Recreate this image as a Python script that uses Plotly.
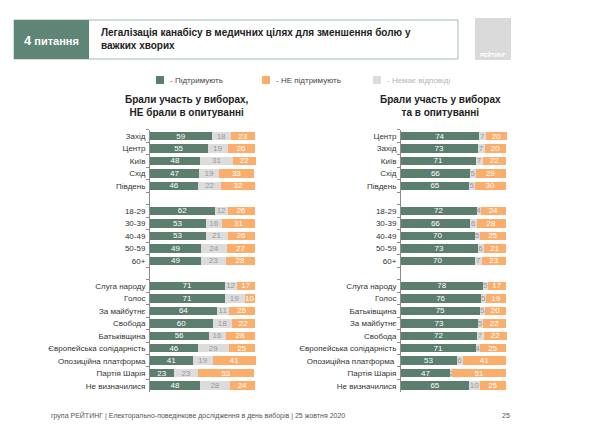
import plotly.graph_objects as go

W, H = 602, 427

series_names = ["- Підтримують", "- НЕ підтримують", "- Немає відповіді"]

categories = ["Захід", "Центр", "Київ", "Схід", "Південь", " ",
              "18-29", "30-39", "40-49", "50-59", "60+", "  ",
              "Слуга народу", "Голос", "За майбутнє", "Свобода", "Батьківщина",
              "Європейська солідарність", "Опозиційна платформа", "Партія Шарія", "Не визначилися"]
left_support = [59, 55, 48, 47, 46, None, 62, 53, 53, 49, 49, None, 71, 71, 64, 60, 56, 46, 41, 23, 48]
left_noanswer = [18, 19, 31, 19, 22, None, 12, 16, 21, 24, 23, None, 12, 19, 11, 18, 16, 29, 19, 23, 28]
left_against = [23, 26, 22, 33, 32, None, 26, 31, 26, 27, 28, None, 17, 10, 25, 22, 28, 25, 41, 53, 24]

categories_r = ["Центр", "Захід", "Київ", "Схід", "Південь", " ",
                "18-29", "30-39", "40-49", "50-59", "60+", "  ",
                "Слуга народу", "Голос", "Батьківщина", "За майбутнє", "Свобода",
                "Європейська солідарність", "Опозиційна платформа ", "Партія Шарія", "Не визначилися"]
right_support = [74, 73, 71, 66, 65, None, 72, 66, 70, 73, 70, None, 78, 76, 75, 73, 72, 71, 53, 47, 65]
right_noanswer = [7, 7, 7, 5, 5, None, 4, 6, 5, 6, 7, None, 5, 5, 5, 5, 7, 4, 6, 2, 10]
right_against = [20, 20, 22, 29, 30, None, 24, 28, 25, 21, 23, None, 17, 19, 20, 22, 22, 25, 41, 51, 25]

GREEN = "#5b7e6f"
GREY = "#dcdcdc"
ORANGE = "#fbae6c"
FONT = "Liberation Sans Narrow, Arial Narrow, Liberation Sans, Arial, sans-serif"

def px(x):
    return x / W

def py(y):
    return 1 - y / H

fig = go.Figure()

def add_panel(cats, sup, na, ag, xa, ya):
    for vals, color, tcolor in [(sup, GREEN, "white"), (na, GREY, "#9a9a9a"), (ag, ORANGE, "white")]:
        fig.add_trace(go.Bar(
            y=cats, x=vals, orientation="h", marker=dict(color=color, line=dict(width=0)),
            text=[("" if v is None else str(v)) for v in vals], textposition="inside",
            insidetextanchor="middle", textangle=0,
            textfont=dict(color=tcolor, size=8, family=FONT),
            xaxis=xa, yaxis=ya, showlegend=False, hoverinfo="skip", cliponaxis=False))

add_panel(categories, left_support, left_noanswer, left_against, "x", "y")
add_panel(categories_r, right_support, right_noanswer, right_against, "x2", "y2")

ytop = py(136 - 12.49 / 2)
ybot = py(385.7 + 12.49 / 2)
UNIT = 1.05  # px per percent
XMAX = 102

yax = dict(type="category", autorange="reversed", domain=[ybot, ytop], showline=True,
           linecolor="#8c8c8c", linewidth=1, ticks="outside", ticklen=3, tickcolor="#8c8c8c",
           tickson="boundaries", tickfont=dict(size=8, color="#333", family=FONT), showgrid=False,
           zeroline=False, ticklabelstandoff=2)

fig.update_layout(
    width=W, height=H, margin=dict(l=0, r=0, t=0, b=0),
    paper_bgcolor="white", plot_bgcolor="white", barmode="stack", bargap=0.32,
    uniformtext=dict(minsize=8, mode="show"),
    font=dict(family=FONT),
    xaxis=dict(domain=[px(150), px(150 + XMAX * UNIT)], range=[0, XMAX], visible=False),
    xaxis2=dict(domain=[px(401), px(401 + XMAX * UNIT)], range=[0, XMAX], visible=False, anchor="y2"),
    yaxis=dict(yax, categoryarray=categories, categoryorder="array", anchor="x"),
    yaxis2=dict(yax, categoryarray=categories_r, categoryorder="array", anchor="x2"),
)

shapes = []
ann = []
# Header box
shapes.append(dict(type="rect", xref="paper", yref="paper", x0=px(14), x1=px(458), y0=py(59), y1=py(20),
                   line=dict(color="#9fbdb2", width=1), fillcolor="white", layer="below"))
shapes.append(dict(type="rect", xref="paper", yref="paper", x0=px(14), x1=px(89), y0=py(59), y1=py(20),
                   line=dict(width=0), fillcolor="#5f8576", layer="below"))
ann.append(dict(xref="paper", yref="paper", x=px(51), y=py(40), text="<b><span style='font-size:13px'>4</span> питання</b>",
                showarrow=False, font=dict(size=11, color="white", family="Liberation Sans, Arial"), xanchor="center", yanchor="middle"))
ann.append(dict(xref="paper", yref="paper", x=px(99), y=py(39), align="left",
                text="<b>Легалізація канабісу в медичних цілях для зменшення болю у<br>важких хворих</b>",
                showarrow=False, font=dict(size=10, color="#222", family=FONT), xanchor="left", yanchor="middle"))
# Logo
shapes.append(dict(type="rect", xref="paper", yref="paper", x0=px(475), x1=px(511), y0=py(60), y1=py(18),
                   line=dict(width=0), fillcolor="#dadada", layer="below"))
ann.append(dict(xref="paper", yref="paper", x=px(493), y=py(54), text="<b>РЕЙТИНГ</b>",
                showarrow=False, font=dict(size=5.5, color="white", family=FONT), xanchor="center", yanchor="middle"))

# Legend
leg_x = [160, 266, 377]
leg_colors = [GREEN, ORANGE, GREY]
leg_tc = ["#444", "#444", "#b5b5b5"]
for lx, c, name, tc in zip(leg_x, leg_colors, series_names, leg_tc):
    shapes.append(dict(type="rect", xref="paper", yref="paper", x0=px(lx - 4), x1=px(lx + 4), y0=py(84), y1=py(76),
                       line=dict(width=0), fillcolor=c))
    ann.append(dict(xref="paper", yref="paper", x=px(lx + 8), y=py(80), text=name, showarrow=False,
                    font=dict(size=8, color=tc, family=FONT), xanchor="left", yanchor="middle"))

# Subtitles
ann.append(dict(xref="paper", yref="paper", x=px(187), y=py(106), text="<b>Брали участь у виборах,<br>НЕ брали в опитуванні</b>",
                showarrow=False, font=dict(size=10, color="#222", family=FONT), xanchor="center", yanchor="middle"))
ann.append(dict(xref="paper", yref="paper", x=px(440), y=py(106), text="<b>Брали участь у виборах<br>та в опитуванні</b>",
                showarrow=False, font=dict(size=10, color="#222", family=FONT), xanchor="center", yanchor="middle"))

# Footer
ann.append(dict(xref="paper", yref="paper", x=px(49), y=py(415),
                text="група РЕЙТИНГ | Електорально-поведінкове дослідження в день виборів | 25 жовтня 2020",
                showarrow=False, font=dict(size=7, color="#555", family=FONT), xanchor="left", yanchor="middle"))
ann.append(dict(xref="paper", yref="paper", x=px(512), y=py(415), text="25",
                showarrow=False, font=dict(size=7, color="#555", family=FONT), xanchor="right", yanchor="middle"))

fig.update_layout(shapes=shapes, annotations=ann)
fig.write_html("out.html")
